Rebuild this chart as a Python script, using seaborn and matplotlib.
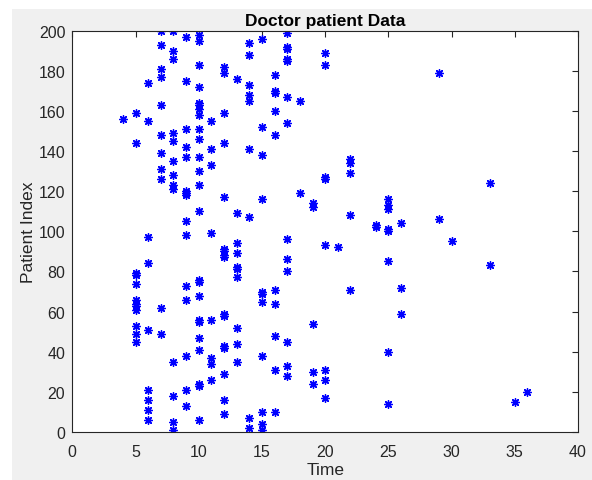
import matplotlib
matplotlib.use("Agg")
import matplotlib.pyplot as plt
from matplotlib.patches import Rectangle
import seaborn as sns
import pandas as pd

title = "Doctor patient Data"
x_label = "Time"
y_label = "Patient Index"
x_ticks = [0, 5, 10, 15, 20, 25, 30, 35, 40]
y_ticks = [0, 20, 40, 60, 80, 100, 120, 140, 160, 180, 200]

time = (
    [4]
    + [5] * 12
    + [6] * 9
    + [7] * 11
    + [8] * 13
    + [9] * 15
    + [10] * 24
    + [11] * 8
    + [12] * 16
    + [13] * 10
    + [14] * 9
    + [15] * 11
    + [16] * 10
    + [17] * 13
    + [18] * 2
    + [19] * 5
    + [20] * 8
    + [21]
    + [22] * 5
    + [24] * 2
    + [25] * 8
    + [26] * 3
    + [29] * 2
    + [30]
    + [33] * 2
    + [35]
    + [36]
)

patient_index = [
    156,
    159, 144, 79, 78, 74, 66, 64, 63, 61, 53, 49, 45,
    174, 155, 97, 84, 51, 21, 16, 11, 6,
    200, 193, 181, 177, 163, 148, 139, 131, 126, 62, 49,
    200, 190, 186, 149, 145, 135, 128, 123, 121, 35, 18, 5, 1,
    197, 175, 151, 142, 137, 120, 119, 118, 105, 98, 73, 66, 38, 21, 13,
    198, 195, 183, 172, 164, 163, 161, 158, 151, 146, 137, 130, 123, 110,
    76, 75, 68, 56, 55, 47, 41, 24, 23, 6,
    155, 141, 133, 99, 56, 37, 34, 26,
    182, 179, 159, 144, 117, 91, 90, 88, 87, 59, 58, 43, 42, 29, 16, 9,
    176, 109, 94, 89, 82, 81, 77, 52, 44, 35,
    194, 188, 173, 168, 165, 141, 107, 7, 2,
    196, 152, 138, 116, 70, 69, 65, 38, 10, 4, 1,
    178, 170, 169, 160, 148, 71, 64, 48, 31, 10,
    199, 192, 191, 186, 185, 167, 154, 96, 86, 80, 45, 33, 28,
    165, 119,
    114, 112, 54, 30, 24,
    189, 183, 127, 126, 93, 31, 26, 17,
    92,
    136, 134, 129, 108, 71,
    103, 102,
    116, 113, 111, 101, 100, 85, 40, 14,
    104, 72, 59,
    179, 106,
    95,
    124, 83,
    15,
    20,
]

df = pd.DataFrame({"Time": time, "Patient Index": patient_index})

sns.set_style("white")
plt.rcParams["font.family"] = ["Liberation Sans", "DejaVu Sans"]

W, H = 592, 481
fig = plt.figure(figsize=(W / 100, H / 100), dpi=100, facecolor="white")
fig.patches.append(Rectangle((12 / W, 0), 1 - 12 / W, 1 - 10 / H,
                             transform=fig.transFigure, facecolor="#f0f0f0",
                             edgecolor="none", zorder=-10))
ax = fig.add_axes([72.3 / W, 1 - 433 / H, (578 - 72.3) / W, (433 - 31.7) / H])
ax.set_facecolor("white")

sns.scatterplot(
    data=df, x="Time", y="Patient Index", ax=ax,
    marker=(8, 2, 0), s=30, color="#0000ff", edgecolor="#0000ff",
    linewidth=1.0, legend=False,
)

ax.set_xlim(0, 40)
ax.set_ylim(0, 200)
ax.set_xticks(x_ticks)
ax.set_yticks(y_ticks)
ax.tick_params(direction="in", length=4, width=0.8, colors="#262626",
               labelsize=11.5, top=True, right=True,
               labeltop=False, labelright=False)
ax.tick_params(axis="x", pad=9)
ax.tick_params(axis="y", pad=5)
for sp in ax.spines.values():
    sp.set_visible(True)
    sp.set_color("#262626")
    sp.set_linewidth(0.8)

ax.set_title(title, fontsize=12.5, fontweight="bold", color="black", pad=4)
ax.set_xlabel(x_label, fontsize=12.5, color="#262626", labelpad=2)
ax.set_ylabel(y_label, fontsize=12.5, color="#262626", labelpad=2)

fig.savefig("out.png", dpi=100, facecolor=fig.get_facecolor())
